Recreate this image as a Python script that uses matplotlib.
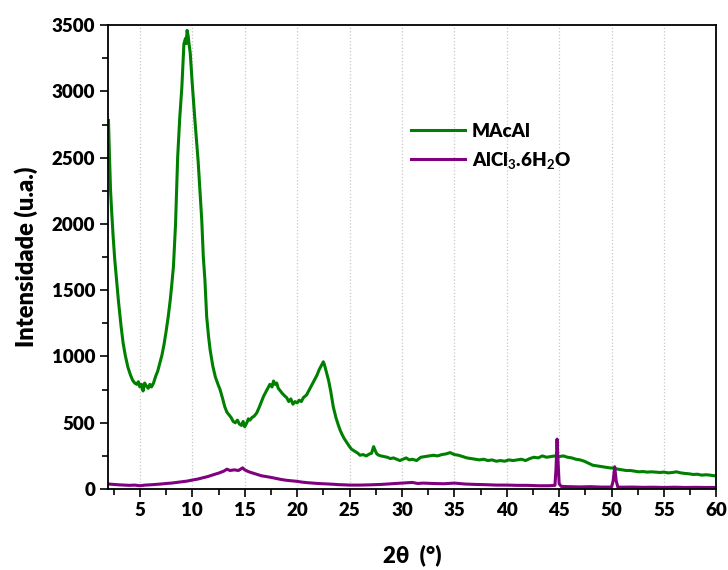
import matplotlib
matplotlib.use("Agg")
import matplotlib.pyplot as plt
from matplotlib.ticker import MultipleLocator

# ---- data ----
x_green = [2.0, 2.1, 2.2, 2.3, 2.45, 2.6, 2.8, 2.95, 3.2, 3.4, 3.6, 3.85, 4.1, 4.3, 4.5, 4.7, 4.85,
           5.0, 5.15, 5.3, 5.45, 5.6, 5.8, 5.95, 6.1, 6.3, 6.5, 6.7, 6.9, 7.1, 7.3, 7.5, 7.7, 7.9,
           8.05, 8.2, 8.4, 8.6, 8.8, 9.0, 9.2, 9.35, 9.42, 9.5, 9.6, 9.7, 9.8, 10.0, 10.25, 10.55,
           10.9, 11.05, 11.2, 11.37, 11.55, 11.7, 11.95, 12.2, 12.45, 12.65, 12.9, 13.1, 13.3, 13.5,
           13.7, 13.9, 14.1, 14.3, 14.5, 14.7, 14.85, 15.0, 15.2, 15.35, 15.5, 15.7, 15.9, 16.15,
           16.4, 16.6, 16.8, 17.0, 17.2, 17.4, 17.6, 17.75, 17.9, 18.05, 18.2, 18.4, 18.6, 18.85,
           19.0, 19.2, 19.4, 19.6, 19.8, 20.0, 20.2, 20.4, 20.6, 20.9, 21.1, 21.3, 21.5, 21.7, 21.9,
           22.1, 22.3, 22.5, 22.6, 22.8, 23.0, 23.2, 23.45, 23.7, 23.9, 24.1, 24.3, 24.5, 24.75,
           25.0, 25.2, 25.4, 25.6, 25.8, 26.0, 26.3, 26.6, 26.9, 27.1, 27.3, 27.45, 27.6, 27.8, 28.0,
           28.3, 28.6, 28.9, 29.2, 29.5, 29.8, 30.1, 30.4, 30.7, 31.0, 31.4, 31.8, 32.2, 32.6, 33.0,
           33.4, 33.8, 34.2, 34.6, 35.0, 35.4, 35.8, 36.2, 36.6, 37.0, 37.4, 37.8, 38.2, 38.6, 39.0,
           39.4, 39.8, 40.2, 40.6, 41.0, 41.4, 41.8, 42.2, 42.6, 43.0, 43.4, 43.8, 44.2, 44.6, 45.0,
           45.4, 45.8, 46.2, 46.6, 47.0, 47.4, 47.8, 48.2, 48.6, 49.0, 49.4, 49.8, 50.2, 50.6, 51.0,
           51.4, 51.8, 52.2, 52.6, 53.0, 53.4, 53.8, 54.2, 54.6, 55.0, 55.4, 55.8, 56.2, 56.6, 57.0,
           57.4, 57.8, 58.2, 58.6, 59.0, 59.4, 59.8, 60.0]
y_green = [2780, 2500, 2250, 2100, 1900, 1730, 1550, 1420, 1230, 1100, 1010, 920, 860, 822, 800, 790, 810,
           770, 790, 740, 800, 780, 760, 790, 770, 800, 850, 890, 950, 1010, 1090, 1190, 1300, 1430,
           1550, 1680, 2000, 2500, 2800, 3030, 3360, 3400, 3360, 3460, 3420, 3350, 3290, 3050, 2780, 2480,
           2030, 1750, 1580, 1300, 1150, 1050, 930, 845, 790, 750, 680, 620, 580, 560,
           540, 510, 500, 520, 490, 480, 510, 470, 500, 530, 520, 540, 550, 575,
           620, 660, 700, 730, 760, 790, 770, 815, 790, 800, 760, 740, 720, 700,
           690, 660, 680, 640, 660, 650, 670, 660, 690, 710, 740, 770, 800, 830, 860,
           900, 930, 960, 940, 880, 820, 740, 620, 540, 490, 445, 410, 380, 350,
           320, 300, 290, 280, 270, 255, 260, 250, 265, 270, 320, 290, 265, 255, 250,
           245, 240, 230, 235, 225, 215, 225, 235, 220, 225, 215, 240, 245, 250, 255,
           250, 260, 265, 275, 260, 255, 245, 235, 230, 225, 220, 225, 215, 220, 210,
           215, 210, 220, 215, 220, 225, 215, 230, 240, 235, 250, 240, 245, 250, 245,
           250, 240, 235, 225, 220, 210, 195, 180, 175, 170, 165, 160, 158, 150, 145,
           140, 140, 135, 130, 132, 128, 130, 128, 125, 128, 122, 125, 130, 122, 118,
           115, 110, 112, 105, 108, 105, 100, 105]

x_purple = [2.0, 2.5, 3.0, 3.5, 4.0, 4.5, 5.0, 5.5, 6.0, 6.5, 7.0, 7.5, 8.0, 8.5, 9.0, 9.5, 10.0,
            10.5, 11.0, 11.5, 12.0, 12.5, 13.0, 13.3, 13.6, 14.0, 14.4, 14.8, 15.0, 15.4, 15.8, 16.2,
            16.6, 17.0, 17.5, 18.0, 18.5, 19.0, 19.5, 20.0, 20.5, 21.0, 21.5, 22.0, 22.5, 23.0, 23.5,
            24.0, 24.5, 25.0, 26.0, 27.0, 28.0, 29.0, 30.0, 31.0, 31.5, 32.0, 33.0, 34.0, 35.0, 36.0,
            37.0, 38.0, 39.0, 40.0, 41.0, 42.0, 43.0, 44.0, 44.6, 44.7, 44.8, 44.9, 45.0, 45.2, 46.0,
            47.0, 48.0, 49.0, 50.0, 50.15, 50.3, 50.45, 50.6, 51.0, 52.0, 53.0, 54.0, 55.0, 56.0,
            57.0, 58.0, 59.0, 60.0]
y_purple = [38, 35, 32, 30, 28, 30, 25, 30, 32, 35, 38, 42, 45, 50, 55, 60, 68,
            75, 85, 95, 108, 120, 135, 150, 140, 145, 140, 160, 145, 130, 120, 110,
            100, 95, 88, 80, 72, 66, 62, 58, 52, 48, 45, 42, 40, 38, 36,
            33, 32, 30, 30, 32, 35, 40, 45, 50, 42, 45, 42, 40, 45, 38,
            35, 33, 30, 30, 28, 28, 25, 25, 28, 150, 377, 200, 40, 20, 18,
            16, 18, 15, 15, 60, 168, 60, 15, 14, 15, 13, 14, 12, 14,
            12, 13, 12, 12]

series_labels = ["MAcAl", r"AlCl$_\mathbf{3}$.6H$_\mathbf{2}$O"]

plt.rcParams['font.family'] = ['Lato', 'DejaVu Sans']
plt.rcParams['font.weight'] = 'bold'
plt.rcParams['mathtext.fontset'] = 'custom'
plt.rcParams['mathtext.rm'] = 'Lato:bold'
plt.rcParams['mathtext.bf'] = 'Lato:bold'
plt.rcParams['mathtext.it'] = 'Lato:bold'

fig = plt.figure(figsize=(7.28, 5.70), dpi=100)
ax = fig.add_axes([0.149, 0.142, 0.835, 0.814])

ax.plot(x_green, y_green, color='#008000', lw=2.2, label=series_labels[0])
ax.plot(x_purple, y_purple, color='#800080', lw=2.2, label=series_labels[1])

ax.set_xlim(2, 60)
ax.set_ylim(0, 3500)
ax.xaxis.set_major_locator(MultipleLocator(5))
ax.xaxis.set_minor_locator(MultipleLocator(2.5))
ax.yaxis.set_major_locator(MultipleLocator(500))
ax.yaxis.set_minor_locator(MultipleLocator(250))
ax.tick_params(which='major', direction='out', length=6, width=1.2, labelsize=13.5)
ax.tick_params(which='minor', direction='out', length=4, width=1.2)
for lab in ax.get_xticklabels() + ax.get_yticklabels():
    lab.set_fontweight('heavy')
for s in ax.spines.values():
    s.set_linewidth(1.3)
ax.grid(axis='x', which='major', linestyle=':', color='#c8c8c8', linewidth=0.9)

ax.set_ylabel("Intensidade (u.a.)", fontsize=17, fontweight='heavy', labelpad=10)
ax.set_xlabel("2θ  (°)", fontsize=16, fontweight='heavy', labelpad=18)

leg = ax.legend(loc='upper left', bbox_to_anchor=(0.47, 0.826), frameon=False,
                fontsize=13.5, handlelength=2.9, labelspacing=0.55, handletextpad=0.35)
for t in leg.get_texts():
    t.set_fontweight('heavy')

fig.savefig("out.png", dpi=100)
